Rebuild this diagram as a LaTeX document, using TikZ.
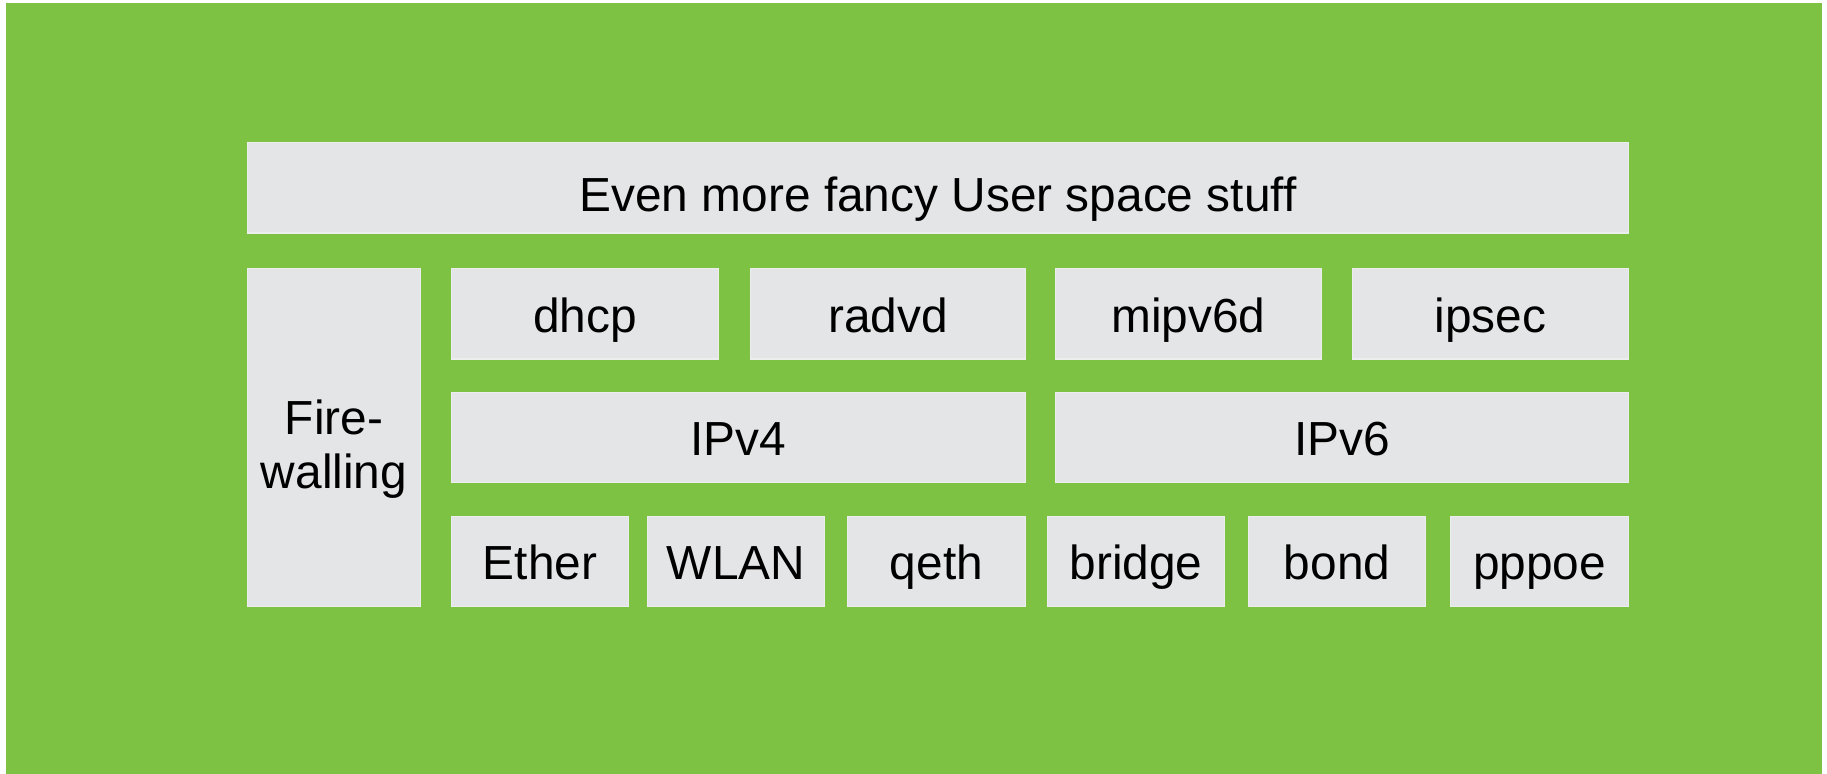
\documentclass[tikz,border=0pt]{standalone}
\usepackage{fontspec}
\setmainfont{Liberation Sans}
\definecolor{bggreen}{HTML}{7DC243}
\definecolor{boxgray}{HTML}{E4E5E6}

\begin{document}
\begin{tikzpicture}[x=0.01cm, y=-0.01cm]
        \tikzstyle{every node}=[inner sep=0pt, font=\fontsize{13.6}{15.1}\selectfont]
        \tikzstyle{layer}=[rectangle, fill=boxgray, draw=boxgray!70!white, line width=0.3pt, minimum height=0.9cm, text height=0.37cm, text depth=0pt, align=center]
        \useasboundingbox (0,0) rectangle (1827,774);
        \fill[bggreen] (6,3) rectangle (1822,774);
        % user space
        \node[layer, minimum width=13.8cm, text height=0.48cm] (user) at (938,188) {Even more fancy User space stuff};
        \node[layer, minimum width=1.72cm, minimum height=3.37cm, text height=1.01cm] (fw) at (334,437.5) {Fire-\\walling};
        % daemons
        \node[layer, minimum width=2.66cm] (dhcp) at (585,314) {dhcp};
        \node[layer, minimum width=2.74cm] (radvd) at (888,314) {radvd};
        \node[layer, minimum width=2.65cm] (mipv6d) at (1188.5,314) {mipv6d};
        \node[layer, minimum width=2.75cm] (ipsec) at (1490.5,314) {ipsec};
        % protocols
        \node[layer, minimum width=5.73cm] (ipv4) at (738.5,437.5) {IPv4};
        \node[layer, minimum width=5.72cm] (ipv6) at (1342,437.5) {IPv6};
        % devices
        \node[layer, minimum width=1.76cm] (ether) at (540,561.5) {Ether};
        \node[layer, minimum width=1.76cm] (wlan) at (736,561.5) {WLAN};
        \node[layer, minimum width=1.77cm] (qeth) at (936.5,561.5) {qeth};
        \node[layer, minimum width=1.77cm] (bridge) at (1136,561.5) {bridge};
        \node[layer, minimum width=1.77cm] (bond) at (1337,561.5) {bond};
        \node[layer, minimum width=1.77cm] (pppoe) at (1539.5,561.5) {pppoe};
\end{tikzpicture}
\end{document}
